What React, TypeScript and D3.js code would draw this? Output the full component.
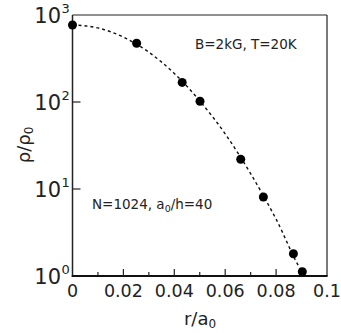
import React from "react";
import * as d3 from "d3";

const pointX = [0, 0.0252, 0.0431, 0.0501, 0.0661, 0.075, 0.0868, 0.0903];
const pointY = [767, 473, 168, 102, 22, 8.1, 1.8, 1.12];

const curveX = [0, 0.01, 0.02, 0.03, 0.04, 0.05, 0.06, 0.07, 0.08, 0.09, 0.0915];
const curveY = [770, 710, 557, 373, 213, 103, 43, 15, 4.5, 1.15, 1.0];

const xTicks = [0, 0.01, 0.02, 0.03, 0.04, 0.05, 0.06, 0.07, 0.08, 0.09, 0.1];
const xLabels = ["0", "", "0.02", "", "0.04", "", "0.06", "", "0.08", "", "0.1"];
const yTicks = [1, 10, 100, 1000];
const yExp = ["0", "1", "2", "3"];

const W = 341;
const H = 333;
const FONT = "'DejaVu Sans', sans-serif";

export default function App() {
  const x = d3.scaleLinear().domain([0, 0.1]).range([72.5, 327]);
  const y = d3.scaleLog().domain([1, 1000]).range([276, 15]);
  const line = d3
    .line<number>()
    .x((_, i) => x(curveX[i]))
    .y((d) => y(d))
    .curve(d3.curveMonotoneX);
  const [x0, x1] = x.range();
  const [y0, y1] = y.range();
  return (
    <svg
      width={W}
      height={H}
      style={{ position: "absolute", left: 0, top: 0, background: "#fff" }}
      fontFamily={FONT}
    >
      <rect x={0} y={0} width={W} height={H} fill="#fff" />
      {/* frame */}
      <line x1={x0} x2={x1} y1={y1} y2={y1} stroke="#222" strokeWidth={1.2} />
      <line x1={x1} x2={x1} y1={y1} y2={y0} stroke="#222" strokeWidth={1.2} />
      <line x1={x0} x2={x0} y1={y1} y2={y0 + 1} stroke="#222" strokeWidth={1.5} />
      <line x1={x0 - 0.75} x2={x1 + 0.6} y1={y0} y2={y0} stroke="#111" strokeWidth={2} />
      {/* x ticks */}
      {xTicks.map((t, i) => (
        <g key={"xt" + i}>
          {i > 0 && i < xTicks.length - 1 && (
            <line
              x1={x(t)}
              x2={x(t)}
              y1={y0}
              y2={y0 - (i % 2 === 0 ? 7 : 4)}
              stroke="#222"
              strokeWidth={1.2}
            />
          )}
          {xLabels[i] && (
            <text x={x(t)} y={297} textAnchor="middle" fontSize={17.5} fill="#222">
              {xLabels[i]}
            </text>
          )}
        </g>
      ))}
      {/* y ticks */}
      {yTicks.map((t, i) => (
        <g key={"yt" + i}>
          {i > 0 && i < yTicks.length - 1 && (
            <line x1={x0} x2={x0 + 8} y1={y(t)} y2={y(t)} stroke="#222" strokeWidth={1.2} />
          )}
          <text x={61} y={y(t) + 7.5} textAnchor="end" fontSize={21} fill="#222">
            10
          </text>
          <text x={61.5} y={y(t) - 2} textAnchor="start" fontSize={13} fill="#222">
            {yExp[i]}
          </text>
        </g>
      ))}
      {/* curve */}
      <path
        d={line(curveY) || ""}
        fill="none"
        stroke="#111"
        strokeWidth={1.4}
        strokeDasharray="3,3"
      />
      {pointX.map((px, i) => (
        <circle key={"p" + i} cx={x(px)} cy={y(pointY[i])} r={4.5} fill="#000" />
      ))}
      {/* annotations */}
      <text x={195} y={49} fontSize={13.5} fill="#222">
        B=2kG, T=20K
      </text>
      <text x={92} y={209} fontSize={13.5} fill="#222">
        N=1024, a<tspan fontSize={9.5} dy={3}>0</tspan>
        <tspan dy={-3}>/h=40</tspan>
      </text>
      {/* axis labels */}
      <text x={200} y={325} textAnchor="middle" fontSize={18} fill="#222">
        r/a<tspan fontSize={12} dy={3}>0</tspan>
      </text>
      <text
        transform="translate(30,145) rotate(-90)"
        textAnchor="middle"
        fontSize={18}
        fill="#222"
      >
        ρ/ρ<tspan fontSize={12} dy={3}>0</tspan>
      </text>
    </svg>
  );
}
